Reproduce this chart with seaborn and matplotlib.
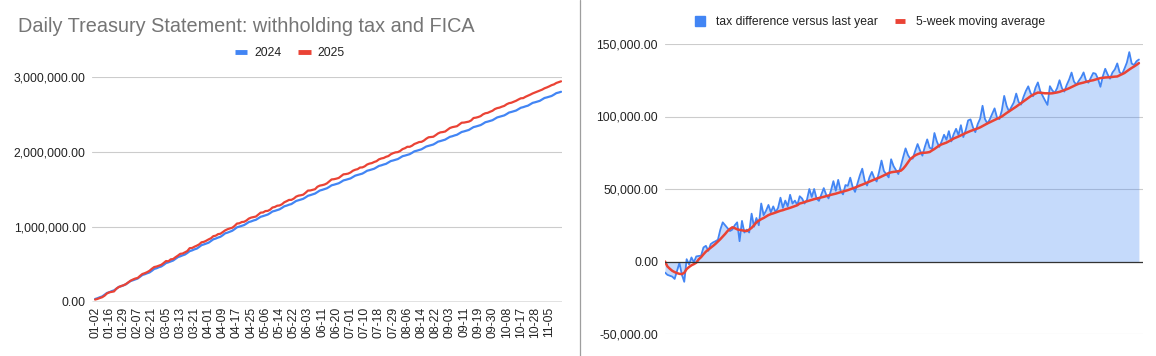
import numpy as np
import pandas as pd
import matplotlib
matplotlib.use("Agg")
import matplotlib.pyplot as plt
from matplotlib.lines import Line2D
from matplotlib.patches import Patch
from matplotlib.ticker import FuncFormatter
import seaborn as sns

# ---- data (thousands) ----
# cumulative withholding + FICA, 2024, one value per business day
cum_2024_k = [
    40, 50, 63, 74, 96, 120, 130, 144, 155, 176, 201,
    210, 223, 235, 257, 280, 290, 302, 313, 336, 360,
    370, 383, 394, 416, 441, 450, 464, 474, 495, 519,
    529, 541, 553, 575, 598, 609, 622, 633, 654, 678,
    688, 702, 712, 734, 758, 768, 780, 791, 813, 836,
    846, 859, 870, 891, 916, 925, 938, 950, 972, 996,
    1005, 1016, 1026, 1045, 1066, 1075, 1087, 1096, 1116, 1136,
    1145, 1156, 1166, 1185, 1207, 1215, 1226, 1236, 1255, 1276,
    1285, 1297, 1306, 1326, 1347, 1356, 1366, 1376, 1395, 1416,
    1425, 1436, 1446, 1466, 1486, 1495, 1506, 1516, 1535, 1556,
    1564, 1574, 1583, 1601, 1621, 1629, 1639, 1648, 1666, 1685,
    1694, 1704, 1712, 1730, 1750, 1758, 1768, 1777, 1795, 1814,
    1822, 1833, 1842, 1860, 1879, 1887, 1897, 1906, 1925, 1944,
    1952, 1962, 1971, 1989, 2009, 2017, 2027, 2036, 2054, 2073,
    2082, 2092, 2100, 2118, 2138, 2146, 2156, 2165, 2183, 2202,
    2210, 2221, 2230, 2248, 2267, 2275, 2285, 2294, 2313, 2332,
    2340, 2350, 2359, 2377, 2397, 2405, 2415, 2424, 2442, 2461,
    2470, 2480, 2488, 2506, 2526, 2534, 2544, 2553, 2571, 2590,
    2598, 2609, 2618, 2636, 2655, 2663, 2673, 2682, 2701, 2720,
    2728, 2738, 2747, 2765, 2785, 2793, 2803,
]

# 2025 minus 2024 (right chart, blue area)
diff_k = [
    -7.6, -9.2, -9.8, -10.4, -12.0, -6.5, -1.0, -9.0, -14.0, 1.6,
    -2.0, 2.8, -0.5, 3.5, 3.8, 4.0, 9.7, 10.8, 7.4, 12.0,
    13.2, 14.0, 15.0, 22.0, 27.0, 25.0, 23.0, 21.0, 22.0, 25.0,
    27.0, 14.0, 28.0, 20.0, 22.0, 20.0, 33.0, 24.0, 30.0, 25.0,
    40.0, 32.0, 35.0, 39.0, 34.0, 38.0, 34.0, 37.0, 44.0, 37.0,
    42.0, 38.0, 46.0, 40.0, 42.0, 39.0, 45.0,
    43.4, 40.0, 42.5, 50.0, 44.5, 50.0, 43.4, 41.8, 46.2, 50.6,
    46.1, 43.5, 49.0, 55.4, 48.8, 56.3, 48.8, 46.3, 52.7, 52.2,
    57.8, 51.4, 48.0, 53.7, 59.4, 64.0, 55.7, 52.4, 58.1, 61.8,
    57.5, 55.2, 61.8, 69.6, 62.4, 60.2, 58.0, 70.5, 65.8, 63.0,
    60.3, 65.6, 72.0, 78.0, 73.4, 70.7, 71.0, 76.2, 81.0, 76.6,
    73.0, 79.0, 84.2, 78.5, 77.6, 88.6, 82.8, 79.0, 82.8, 87.4,
    84.0, 89.9, 82.8, 87.8, 91.5, 87.2, 94.0, 85.8, 90.6, 97.3,
    98.0, 92.6, 89.2, 94.8, 98.5, 107.4, 98.3, 95.2, 98.0, 101.8,
    105.6, 99.4, 98.2, 104.0, 114.2, 107.4, 103.5, 106.6, 109.7, 115.8,
    110.0, 108.2, 113.4, 117.6, 120.8, 116.0, 114.0, 119.8, 123.5, 117.4,
    114.2, 111.0, 108.0, 120.9, 118.0, 116.3, 119.6, 125.0, 119.6, 117.2,
    121.8, 125.5, 130.3, 124.1, 121.9, 124.6, 127.0, 130.4, 124.9, 123.3,
    126.7, 130.0, 129.5, 126.0, 120.5, 127.7, 132.9, 129.0, 126.1, 130.3,
    132.5, 136.6, 130.4, 129.2, 133.0, 137.2, 144.4, 136.5, 135.5, 138.1,
    139.3,
]

# 5-week moving average (right chart, red line)
ma_k = [
    0.0, -3.4, -5.0, -6.4, -7.3, -8.0, -8.5, -8.7, -7.8, -5.2,
    -3.8, -2.6, -1.8, -0.8, 1.5, 3.0, 5.0, 6.8, 8.2, 9.5,
    10.8, 12.2, 13.8, 15.4, 17.2, 19.0, 21.0, 22.5, 23.6, 23.0,
    22.2, 21.8, 21.5, 21.2, 21.0, 22.0, 23.2, 25.0, 27.0, 28.2,
    29.2, 30.0, 31.0, 32.0, 32.7, 33.2, 33.8, 34.4, 35.0, 35.4,
    36.0, 36.5, 37.0, 37.6, 38.2, 38.8, 40.0, 40.4, 41.0, 41.5,
    42.0, 42.5, 43.0, 43.4, 43.8, 44.2, 44.6, 45.1, 45.5, 46.0,
    46.4, 46.8, 47.3, 47.8, 48.3, 48.7, 49.2, 49.8, 50.4, 51.0,
    51.7, 52.4, 53.0, 53.7, 54.4, 55.1, 55.8, 56.5, 57.2, 57.8,
    58.6, 59.4, 60.2, 61.0, 61.5, 61.8, 62.0, 62.3, 62.6, 64.0,
    66.0, 68.4, 70.7, 72.0, 73.2, 74.0, 74.6, 75.0, 75.0, 75.2,
    75.5, 76.6, 77.6, 78.8, 80.0, 80.8, 81.4, 82.0, 82.9, 83.8,
    84.8, 85.5, 86.2, 87.0, 87.8, 88.6, 89.3, 90.0, 90.6, 91.2,
    91.8, 92.5, 93.4, 94.3, 95.2, 96.0, 96.8, 97.6, 98.4, 99.2,
    100.0, 101.2, 102.4, 103.5, 104.6, 105.7, 106.8, 108.0, 109.2, 110.4,
    111.6, 112.8, 114.0, 115.0, 115.8, 116.5, 116.4, 116.2, 116.0, 116.0,
    115.9, 116.0, 116.3, 116.6, 117.0, 117.6, 118.2, 118.8, 119.5, 120.3,
    121.1, 121.9, 122.6, 123.0, 123.4, 123.9, 124.3, 124.7, 125.0, 125.5,
    126.0, 126.5, 126.7, 126.9, 127.0, 127.1, 127.3, 127.5, 127.6, 128.4,
    129.2, 130.0, 131.2, 132.4, 133.5, 134.5, 135.6, 136.8,
]

# x labels shown on the left chart (every 6th business day)
date_labels = [
    "01-02", "01-16", "01-29", "02-07", "02-21", "03-05", "03-13", "03-21",
    "04-01", "04-09", "04-17", "04-25", "05-06", "05-14", "05-22", "06-03",
    "06-11", "06-20", "07-01", "07-10", "07-18", "07-29", "08-06", "08-14",
    "08-22", "09-03", "09-11", "09-19", "09-30", "10-08", "10-17", "10-28",
    "11-05",
]
label_step = 6

assert len(cum_2024_k) == len(diff_k) == len(ma_k)

BLUE = "#4285F4"
RED = "#EA4335"
GRID = "#cccccc"
TXT = "#222222"

day = np.arange(len(cum_2024_k))
cum_2024 = np.array(cum_2024_k) * 1000
diff = np.array(diff_k) * 1000
ma = np.array(ma_k) * 1000
cum_2025 = cum_2024 + diff

left = pd.DataFrame({
    "day": np.concatenate([day, day]),
    "value": np.concatenate([cum_2024, cum_2025]),
    "year": ["2024"] * len(day) + ["2025"] * len(day),
})

sns.set_theme(style="white")
plt.rcParams["font.family"] = ["Liberation Sans", "DejaVu Sans"]

W, H = 1156, 356
fig = plt.figure(figsize=(W / 100, H / 100), dpi=100)
money = FuncFormatter(lambda v, p: f"{v:,.2f}")

# ---- left: cumulative totals ----
ax1 = fig.add_axes([92 / W, 54 / H, 470 / W, 225 / H])
ax1.set_axisbelow(True)
ax1.yaxis.grid(True, color=GRID, lw=0.8)
sns.lineplot(data=left, x="day", y="value", hue="year",
             palette={"2024": BLUE, "2025": RED}, linewidth=1.6,
             legend=False, ax=ax1)
ax1.axhline(0, color="#333333", lw=0.9)
ax1.set_xlim(-1.3, len(day) - 0.6)
ax1.set_ylim(0, 3_000_000)
ax1.set_yticks([0, 1_000_000, 2_000_000, 3_000_000])
ax1.yaxis.set_major_formatter(money)
ax1.set_xticks(np.arange(0, len(day), label_step)[:len(date_labels)])
ax1.set_xticklabels(date_labels, rotation=90)
ax1.set_xlabel("")
ax1.set_ylabel("")
ax1.tick_params(axis="y", length=0, pad=4.5, labelsize=8.7, labelcolor=TXT)
ax1.tick_params(axis="x", length=0, pad=3.5, labelsize=8.7, labelcolor=TXT)
sns.despine(ax=ax1, left=True, bottom=True)

fig.text(18 / W, 1 - 32 / H, "Daily Treasury Statement: withholding tax and FICA",
         fontsize=14.3, color="#757575", ha="left", va="baseline")
fig.legend(handles=[Line2D([], [], color=BLUE, lw=3.5, solid_capstyle="butt"),
                    Line2D([], [], color=RED, lw=3.5, solid_capstyle="butt")],
           labels=["2024", "2025"], loc="center", bbox_to_anchor=(290 / W, 1 - 53 / H),
           ncol=2, frameon=False, fontsize=8.7, handlelength=1.0,
           handletextpad=0.6, columnspacing=1.4, labelcolor=TXT)

# ---- right: difference vs last year ----
ax2 = fig.add_axes([665 / W, 22 / H, 478 / W, 290 / H])
ax2.set_axisbelow(True)
ax2.yaxis.grid(True, color=GRID, lw=0.8)
ax2.fill_between(day, diff, 0, color=BLUE, alpha=0.3, lw=0)
sns.lineplot(x=day, y=diff, color=BLUE, linewidth=1.3, ax=ax2)
sns.lineplot(x=day, y=ma, color=RED, linewidth=1.8, ax=ax2)
ax2.axhline(0, color="#333333", lw=0.9)
ax2.set_xlim(0, len(day) + 0.7)
ax2.set_ylim(-50_000, 150_000)
ax2.set_yticks([-50_000, 0, 50_000, 100_000, 150_000])
ax2.yaxis.set_major_formatter(money)
ax2.set_xticks([])
ax2.tick_params(axis="y", length=0, pad=5, labelsize=8.7, labelcolor=TXT)
sns.despine(ax=ax2, left=True, bottom=True)

fig.legend(handles=[Patch(color=BLUE),
                    Line2D([], [], color=RED, lw=3.5, solid_capstyle="butt")],
           labels=["tax difference versus last year", "5-week moving average"],
           loc="center", bbox_to_anchor=(870 / W, 1 - 22 / H), ncol=2,
           frameon=False, fontsize=8.7, handlelength=0.85, handleheight=0.85,
           handletextpad=0.9, columnspacing=1.4, labelcolor=TXT)

# divider between the two charts
fig.add_artist(Line2D([579.5 / W, 579.5 / W], [0, 1], transform=fig.transFigure,
                      color="#9e9e9e", lw=0.9))

fig.savefig("out.png", dpi=100)
